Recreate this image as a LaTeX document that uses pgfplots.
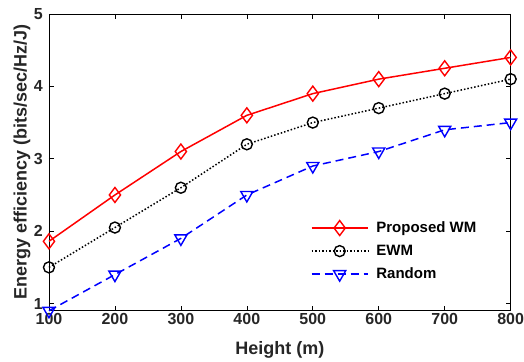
\documentclass[border=0pt]{standalone}
\usepackage{fontspec}
\setmainfont{Liberation Sans}
\usepackage{pgfplots}
\pgfplotsset{compat=1.18}
\begin{document}
\begin{tikzpicture}
\begin{axis}[
  name=ax,
  scale only axis, width=462bp, height=297bp,
  xmin=100, xmax=800, ymin=0.9, ymax=5,
  xtick={100,200,...,800}, ytick={1,2,3,4,5},
  xticklabels={\textbf{100},\textbf{200},\textbf{300},\textbf{400},\textbf{500},\textbf{600},\textbf{700},\textbf{800}},
  yticklabels={\textbf{1},\textbf{2},\textbf{3},\textbf{4},\textbf{5}},
  tick align=inside, major tick length=5bp,
  tick style={black, line width=0.6bp},
  axis line style={line width=0.6bp},
  clip=false,
  ticklabel style={font=\fontsize{16bp}{18bp}\selectfont\bfseries, color=black!85, inner sep=0pt},
  xticklabel style={yshift=-2bp},
  yticklabel style={xshift=-6bp},
  xlabel={Height (m)}, ylabel={Energy efficiency (bits/sec/Hz/J)},
  label style={font=\fontsize{18bp}{20bp}\selectfont\bfseries, color=black!85, inner sep=0pt},
  xlabel style={at={(axis description cs:0.5,-0.131)}, anchor=center},
  ylabel style={at={(axis description cs:-0.0584,0.5)}, anchor=center},
  legend style={draw=none, fill=none, inner sep=0pt, at={(0.567,0.307)}, anchor=north west,
    font=\fontsize{15bp}{17bp}\selectfont\bfseries, row sep=7bp},
  legend cell align=left,
  legend image code/.code={\draw[mark repeat=2,mark phase=2] plot coordinates {(0bp,0bp) (28bp,0bp) (56bp,0bp)};\path (62bp,0bp);},
]
\addplot[red, line width=1.5bp, mark=diamond, mark size=7.5bp, mark options={solid, line width=1.4bp, fill=white}]
  coordinates {(100,1.86) (200,2.5) (300,3.1) (400,3.6) (500,3.9) (600,4.1) (700,4.25) (800,4.4)};
\addlegendentry{Proposed WM}
\addplot[black, line width=1.5bp, dotted, mark=o, mark size=5.5bp, mark options={solid, line width=1.4bp, fill=white}]
  coordinates {(100,1.5) (200,2.05) (300,2.6) (400,3.2) (500,3.5) (600,3.7) (700,3.9) (800,4.1)};
\addlegendentry{EWM}
\addplot[blue, line width=1.5bp, dash pattern=on 8bp off 5bp, mark=triangle, mark size=7bp, mark options={solid, rotate=180, line width=1.4bp, fill=white}]
  coordinates {(100,0.9) (200,1.4) (300,1.9) (400,2.5) (500,2.9) (600,3.1) (700,3.4) (800,3.5)};
\addlegendentry{Random}
\end{axis}
\path ([yshift=14bp]ax.north) ([yshift=-51bp]ax.south) ([xshift=-49bp]ax.west) ([xshift=13bp]ax.east);
\end{tikzpicture}
\end{document}
